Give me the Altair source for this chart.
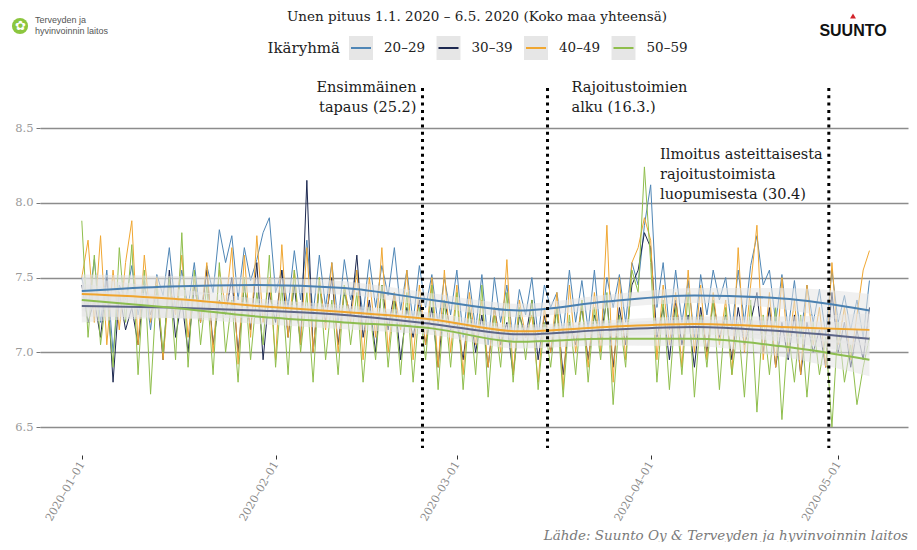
import altair as alt
import pandas as pd

groups = ["20–29", "30–39", "40–49", "50–59"]
colors = ["#4f86b6", "#1c2850", "#f0a732", "#8fbe4c"]
trend_colors = ["#4a80b0", "#5d6688", "#f0a52e", "#8cbd50"]

# daily mean sleep length (hours), 1.1.2020 - 6.5.2020
v20 = (
    [7.50, 7.30, 7.62, 7.20, 7.55, 7.00, 7.45, 7.35, 7.58, 7.25,
     7.48, 7.15, 7.52, 7.38, 7.70, 7.28, 7.55, 7.30, 7.60, 7.22,
     7.58, 7.40, 7.82, 7.60, 7.78, 7.35, 7.70, 7.48, 7.62, 7.80, 7.90]
    + [7.40, 7.55, 7.30, 7.68, 7.35, 7.75, 7.25, 7.65, 7.30, 7.60,
       7.20, 7.62, 7.35, 7.55, 7.25, 7.62, 7.30, 7.58, 7.38, 7.70,
       7.28, 7.55, 7.20, 7.58, 7.30, 7.52, 7.18, 7.50, 7.25]
    + [7.55, 7.10, 7.48, 7.15, 7.52, 7.05, 7.50, 7.20, 7.45, 7.08,
       7.42, 7.25, 7.50, 7.10, 7.45, 7.30, 7.40, 7.12, 7.55, 7.20,
       7.48, 7.15, 7.55, 7.10, 7.50, 7.30, 7.52, 7.20, 7.60, 7.45, 7.85]
    + [8.12, 7.30, 7.60, 7.15, 7.55, 7.20, 7.48, 7.10, 7.52, 7.25,
       7.55, 7.35, 7.50, 7.15, 7.55, 7.20, 7.58, 7.78, 7.45, 7.55,
       7.20, 7.52, 7.15, 7.48, 7.10, 7.45, 7.20, 7.42, 7.12, 7.55]
    + [7.20, 7.38, 7.15, 7.35, 7.10, 7.48]
)
v30 = (
    [7.45, 7.20, 7.35, 7.10, 7.50, 6.80, 7.40, 7.15, 7.30, 7.05,
     7.45, 7.25, 7.40, 6.95, 7.55, 7.10, 7.35, 7.00, 7.45, 7.20,
     7.55, 7.05, 7.35, 7.25, 7.50, 7.00, 7.45, 7.15, 7.60, 6.95, 7.40]
    + [7.20, 7.55, 7.10, 7.45, 7.05, 8.15, 7.00, 7.45, 7.20, 7.50,
       7.05, 7.40, 7.25, 7.65, 7.10, 7.35, 7.00, 7.45, 7.15, 7.40,
       6.95, 7.30, 7.10, 7.35, 7.05, 7.30, 6.90, 7.35, 7.15]
    + [7.20, 6.95, 7.30, 7.00, 7.25, 6.90, 7.30, 7.05, 7.20, 6.85,
       7.25, 7.10, 7.35, 6.95, 7.25, 7.00, 7.30, 6.85, 7.20, 7.05,
       7.30, 6.95, 7.25, 7.10, 7.35, 6.90, 7.30, 7.05, 7.45, 7.55, 7.80]
    + [7.70, 7.10, 7.30, 6.95, 7.35, 7.05, 7.25, 6.90, 7.30, 7.00,
       7.35, 7.10, 7.25, 6.95, 7.30, 7.05, 7.20, 7.40, 7.00, 7.30,
       6.90, 7.20, 6.95, 7.25, 6.85, 7.20, 7.00, 7.15, 6.90, 7.40]
    + [7.00, 7.20, 6.90, 7.15, 6.95, 7.30]
)
v40 = (
    [7.50, 7.75, 7.20, 7.78, 7.05, 7.55, 7.15, 7.60, 7.88, 7.05,
     7.65, 7.20, 7.50, 6.95, 7.45, 7.25, 7.65, 7.10, 7.50, 7.20,
     7.60, 7.00, 7.55, 7.30, 7.70, 6.92, 7.65, 7.10, 7.78, 7.20, 7.50]
    + [6.95, 7.72, 7.10, 7.55, 7.05, 7.70, 7.00, 7.50, 7.15, 7.60,
       7.00, 7.45, 7.20, 7.55, 6.95, 7.50, 7.10, 7.70, 7.00, 7.40,
       7.15, 7.55, 6.95, 7.45, 7.05, 7.50, 6.90, 7.55, 7.00]
    + [7.45, 6.85, 7.40, 7.05, 7.35, 6.90, 7.30, 7.00, 7.62, 6.85,
       7.35, 7.10, 7.25, 6.80, 7.30, 7.00, 7.40, 6.75, 7.45, 7.00,
       7.35, 6.90, 7.40, 7.00, 7.85, 6.80, 7.50, 6.95, 7.60, 7.70, 7.90]
    + [7.75, 6.95, 7.45, 7.05, 7.40, 6.90, 7.55, 7.00, 7.45, 6.95,
       7.40, 7.05, 7.35, 6.85, 7.70, 7.00, 7.45, 7.85, 6.95, 7.40,
       6.90, 7.50, 7.00, 7.35, 6.85, 7.45, 7.05, 7.30, 6.90, 7.60]
    + [7.05, 7.30, 6.95, 7.25, 7.55, 7.68]
)
v50 = (
    [7.88, 7.10, 7.65, 7.05, 7.40, 6.90, 7.70, 7.20, 7.72, 6.85,
     7.55, 6.72, 7.45, 7.00, 7.50, 6.95, 7.80, 6.90, 7.55, 7.05,
     7.45, 6.85, 7.60, 7.00, 7.35, 6.80, 7.50, 6.95, 7.40, 7.05, 7.65]
    + [6.90, 7.45, 6.85, 7.55, 7.00, 7.40, 6.80, 7.50, 6.95, 7.35,
       6.85, 7.45, 7.05, 7.40, 6.80, 7.30, 6.95, 7.45, 6.90, 7.35,
       6.85, 7.40, 6.80, 7.30, 6.95, 7.45, 6.75, 7.35, 6.90]
    + [7.40, 6.75, 7.30, 6.85, 7.45, 6.70, 7.25, 6.90, 7.40, 6.80,
       7.30, 6.95, 7.35, 6.75, 7.20, 6.90, 7.30, 6.70, 7.25, 6.85,
       7.35, 6.80, 7.30, 6.95, 7.40, 6.65, 7.25, 6.90, 7.55, 7.40, 8.24]
    + [7.60, 6.80, 7.35, 6.75, 7.30, 6.85, 7.40, 6.70, 7.25, 6.90,
       7.35, 6.75, 7.30, 6.85, 7.20, 6.70, 7.35, 6.60, 7.25, 6.85,
       7.30, 6.55, 7.15, 6.80, 7.25, 6.70, 7.20, 6.85, 7.10, 6.50]
    + [7.20, 6.80, 7.05, 6.65, 6.90, 7.10]
)
series = [v20, v30, v40, v50]
for s in series:
    assert len(s) == 127, len(s)

# smoothed trend (loess) read at two-week knots, and half-width of its band
trend_days = [0, 14, 28, 42, 56, 70, 84, 98, 112, 126]
t20 = [7.41, 7.44, 7.45, 7.43, 7.35, 7.28, 7.34, 7.38, 7.36, 7.28]
t30 = [7.31, 7.30, 7.28, 7.25, 7.19, 7.12, 7.15, 7.17, 7.14, 7.09]
t40 = [7.39, 7.36, 7.31, 7.27, 7.22, 7.14, 7.17, 7.19, 7.17, 7.15]
t50 = [7.35, 7.30, 7.24, 7.20, 7.16, 7.07, 7.09, 7.09, 7.04, 6.95]
band_half = [0.11, 0.07, 0.05, 0.045, 0.045, 0.045, 0.045, 0.05, 0.07, 0.11]
trends = [t20, t30, t40, t50]

event_dates = ["2020-02-24T12:00:00", "2020-03-15T12:00:00", "2020-04-29T12:00:00"]

ann_right = ["Ensimmäinen", "tapaus (25.2)"]
ann_left = ["Rajoitustoimien", "alku (16.3.)"]
ann_left2 = ["Ilmoitus asteittaisesta", "rajoitustoimista", "luopumisesta (30.4)"]

# ---------- tables ----------
dates = pd.date_range("2020-01-01", periods=127, freq="D")
rows = []
for g, s in zip(groups, series):
    for d, v in zip(dates, s):
        rows.append({"date": d.strftime("%Y-%m-%dT%H:%M:%S"), "group": g, "value": v})
daily = pd.DataFrame(rows)

trows = []
for g, t in zip(groups, trends):
    for d, v, h in zip(trend_days, t, band_half):
        trows.append({"date": dates[d].strftime("%Y-%m-%dT%H:%M:%S"), "group": g,
                      "trend": v, "lo": v - h, "hi": v + h})
trend_df = pd.DataFrame(trows)

events = pd.DataFrame({"date": event_dates})
ann_r = pd.DataFrame({"date": [event_dates[0]] * 2, "y": [8.77, 8.635], "text": ann_right})
ann_l = pd.DataFrame({"date": [event_dates[1]] * 2, "y": [8.77, 8.635], "text": ann_left})
ann_l2 = pd.DataFrame({"date": ["2020-04-02T12:00:00"] * 3, "y": [8.32, 8.186, 8.052],
                       "text": ann_left2})

FONT = "DejaVu Serif"
W, H = 868, 362

xscale = alt.Scale(domain=[alt.DateTime(year=2019, month=12, date=25, hours=7, minutes=30),
                           alt.DateTime(year=2020, month=5, date=12, hours=4)])
yscale = alt.Scale(domain=[6.36, 8.781], zero=False, nice=False)
cscale = alt.Scale(domain=groups, range=colors)
tscale = alt.Scale(domain=groups, range=trend_colors)

x_axis = alt.Axis(
    values=[alt.DateTime(year=2020, month=m, date=1) for m in range(1, 6)],
    format="%Y–%m–%d", formatType="time", labelAngle=-60, labelAlign="right",
    labelBaseline="middle", labelColor="#8a8a8a", labelFont=FONT, labelFontSize=11,
    tickColor="#333333", tickSize=4, offset=7, domain=False, grid=False, title=None,
    labelPadding=3,
)
y_axis = alt.Axis(
    values=[6.5, 7.0, 7.5, 8.0, 8.5], format=".1f", labelColor="#9a9a9a",
    labelFont=FONT, labelFontSize=11.5, tickColor="#777777", tickSize=4,
    domain=False, grid=True, gridColor="#8c8c8c", gridWidth=1.3, title=None,
    labelPadding=3,
)

lines = alt.Chart(daily).mark_line(strokeWidth=1).encode(
    x=alt.X("date:T", scale=xscale, axis=x_axis),
    y=alt.Y("value:Q", scale=yscale, axis=y_axis),
    color=alt.Color("group:N", scale=cscale, legend=None),
    order=alt.Order("date:T"),
)

bands = alt.Chart(trend_df).mark_area(interpolate="monotone", color="#e4e4e4", opacity=0.55).encode(
    x=alt.X("date:T", scale=xscale),
    y=alt.Y("lo:Q", scale=yscale),
    y2="hi:Q",
    detail="group:N",
)

trend_lines = alt.Chart(trend_df).mark_line(interpolate="monotone", strokeWidth=2).encode(
    x=alt.X("date:T", scale=xscale),
    y=alt.Y("trend:Q", scale=yscale),
    stroke=alt.Stroke("group:N", scale=tscale, legend=None),
)

vlines = alt.Chart(events).mark_rule(color="black", strokeWidth=3, strokeDash=[3, 4.3]).encode(
    x=alt.X("date:T", scale=xscale),
    y=alt.value(2),
    y2=alt.value(H),
)

ANN = dict(baseline="middle", font=FONT, fontSize=14.5, color="#1a1a1a")
txt_r = alt.Chart(ann_r).mark_text(align="right", dx=-6, **ANN).encode(
    x=alt.X("date:T", scale=xscale), y=alt.Y("y:Q", scale=yscale), text="text:N")
txt_l = alt.Chart(ann_l).mark_text(align="left", dx=24, **ANN).encode(
    x=alt.X("date:T", scale=xscale), y=alt.Y("y:Q", scale=yscale), text="text:N")
txt_l2 = alt.Chart(ann_l2).mark_text(align="left", **ANN).encode(
    x=alt.X("date:T", scale=xscale), y=alt.Y("y:Q", scale=yscale), text="text:N")

# ---------- header: title, legend, logos, source ----------
one = alt.Data(values=[{}])
title = alt.Chart(one).mark_text(text="Unen pituus 1.1. 2020 – 6.5. 2020 (Koko maa yhteensä)",
                                 font=FONT, fontSize=13.5, color="#222222",
                                 align="center", baseline="middle").encode(
    x=alt.value(437), y=alt.value(-69))

leg_df = pd.DataFrame({"group": groups, "i": list(range(len(groups)))})
leg_base = alt.Chart(leg_df).transform_calculate(cx="321 + 87.5 * datum.i")
leg_box = leg_base.mark_rect(color="#e6e6e6", width=24, height=24).encode(
    x=alt.X("cx:Q", scale=None), y=alt.value(-38))
leg_line = leg_base.transform_calculate(x1="datum.cx - 10", x2="datum.cx + 10").mark_rule(strokeWidth=2).encode(
    x=alt.X("x1:Q", scale=None), x2="x2:Q", y=alt.value(-38),
    color=alt.Color("group:N", scale=cscale, legend=None))
leg_lab = leg_base.transform_calculate(lx="datum.cx + 23").mark_text(
    align="left", baseline="middle", font=FONT, fontSize=13.5, color="#222222").encode(
    x=alt.X("lx:Q", scale=None), y=alt.value(-38), text="group:N")
leg_title = alt.Chart(one).mark_text(text="Ikäryhmä", font=FONT, fontSize=15, color="#222222",
                                     align="right", baseline="middle").encode(
    x=alt.value(300), y=alt.value(-38))

thl_circle = alt.Chart(one).mark_point(shape="circle", filled=True, color="#8cc63f",
                                       size=260, opacity=1).encode(x=alt.value(-20), y=alt.value(-60))
thl_flower = alt.Chart(one).mark_text(text="✿", fontSize=13, color="white",
                                      align="center", baseline="middle").encode(
    x=alt.value(-20), y=alt.value(-60))
thl_t1 = alt.Chart(one).mark_text(text="Terveyden ja", font="Liberation Sans", fontSize=9,
                                  color="#555555", align="left", baseline="middle").encode(
    x=alt.value(-5), y=alt.value(-66))
thl_t2 = alt.Chart(one).mark_text(text="hyvinvoinnin laitos", font="Liberation Sans", fontSize=9,
                                  color="#555555", align="left", baseline="middle").encode(
    x=alt.value(-5), y=alt.value(-55))
suunto_tri = alt.Chart(one).mark_point(shape="triangle-up", filled=True, color="#d2232a",
                                       size=35, opacity=1).encode(x=alt.value(813), y=alt.value(-70))
suunto = alt.Chart(one).mark_text(text="SUUNTO", font="Liberation Sans", fontSize=16,
                                  fontWeight="bold", color="#111111", align="center",
                                  baseline="middle").encode(x=alt.value(813), y=alt.value(-55))
source = alt.Chart(one).mark_text(text="Lähde: Suunto Oy & Terveyden ja hyvinvoinnin laitos",
                                  font=FONT, fontSize=13.5, fontStyle="italic", color="#7a7a7a",
                                  align="right", baseline="middle").encode(
    x=alt.value(W), y=alt.value(H + 88))

chart = alt.layer(
    lines, bands, trend_lines, vlines, txt_r, txt_l, txt_l2,
    title, leg_box, leg_line, leg_lab, leg_title,
    thl_circle, thl_flower, thl_t1, thl_t2, suunto_tri, suunto, source,
).properties(
    width=W, height=H,
    autosize=alt.AutoSizeParams(type="none"),
    padding={"left": 32, "top": 78, "right": 1, "bottom": 94},
    background="white",
).configure_view(stroke=None)

chart.save("out.html", embed_options={"renderer": "svg", "actions": False})
